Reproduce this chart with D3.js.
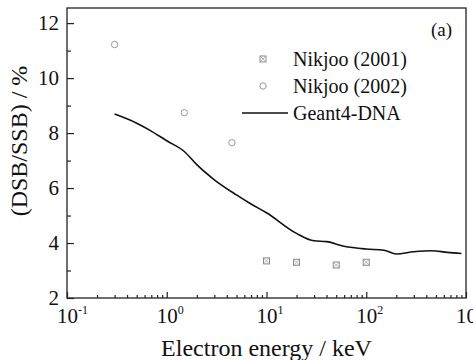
<!DOCTYPE html>
<html>
<head>
<meta charset="utf-8">
<script src="https://cdn.jsdelivr.net/npm/d3@7"></script>
<style>
  body { margin: 0; background: #fff; }
</style>
</head>
<body>
<div id="chart"></div>
<script>
// Data
const nikjoo2001E = [10, 20, 50, 100];
const nikjoo2001R = [3.35, 3.3, 3.2, 3.3];

const nikjoo2002E = [0.3, 1.5, 4.5];
const nikjoo2002R = [11.22, 8.74, 7.65];

const geantE = [0.3, 0.5, 0.68, 1, 1.5, 2, 3, 5, 7, 10, 20, 30, 40, 60, 100, 150, 200, 300, 450, 650, 900];
const geantR = [8.69, 8.36, 8.1, 7.72, 7.33, 6.85, 6.3, 5.75, 5.42, 5.1, 4.35, 4.08, 4.05, 3.88, 3.78, 3.74, 3.6, 3.68, 3.72, 3.66, 3.62];

const xDecades = [-1, 0, 1, 2, 3];
const yTicks = [2, 4, 6, 8, 10, 12];
const yMinor = [3, 5, 7, 9, 11];

const W = 473, H = 360;
const margin = { left: 67, right: 7, top: 8, bottom: 62 };
const FONT = "'Liberation Serif', 'DejaVu Serif', serif";

const svg = d3.select("#chart").append("svg")
    .attr("width", W)
    .attr("height", H)
    .attr("font-family", FONT);

// Scales
const x = d3.scaleLog()
    .domain([0.1, 1000])
    .range([margin.left, W - margin.right]);

const y = d3.scaleLinear()
    .domain([2, 12.55])
    .range([H - margin.bottom, margin.top]);

// Frame
svg.append("rect")
    .attr("x", margin.left)
    .attr("y", margin.top)
    .attr("width", W - margin.left - margin.right)
    .attr("height", H - margin.top - margin.bottom)
    .attr("fill", "none")
    .attr("stroke", "#222")
    .attr("stroke-width", 1.3);

// x axis: major + minor ticks pointing inward
const xMajor = xDecades.map(d => Math.pow(10, d));
const xMinorVals = x.ticks().filter(v => !xMajor.some(m => Math.abs(m - v) < 1e-9));

svg.append("g")
    .attr("transform", `translate(0,${y(2)})`)
    .call(d3.axisBottom(x).tickValues(xMinorVals).tickSize(-3).tickFormat(""))
    .call(g => g.select(".domain").remove());

svg.append("g")
    .attr("transform", `translate(0,${y(2)})`)
    .call(d3.axisBottom(x).tickValues(xMajor).tickSize(-6).tickFormat(""))
    .call(g => g.select(".domain").remove());

// y axis ticks
svg.append("g")
    .attr("transform", `translate(${margin.left},0)`)
    .call(d3.axisLeft(y).tickValues(yMinor).tickSize(-4).tickFormat(""))
    .call(g => g.select(".domain").remove());

svg.append("g")
    .attr("transform", `translate(${margin.left},0)`)
    .call(d3.axisLeft(y).tickValues(yTicks).tickSize(-7).tickFormat(""))
    .call(g => g.select(".domain").remove());

svg.selectAll("g.tick line").attr("stroke", "#222").attr("stroke-width", 1.2);

// x tick labels with superscripts
const xLab = svg.append("g").attr("fill", "#111");
xDecades.forEach(d => {
    const t = xLab.append("text")
        .attr("x", x(Math.pow(10, d)) - 10)
        .attr("y", y(2) + 25)
        .attr("font-family", FONT)
        .attr("font-size", 21);
    t.append("tspan").text("10");
    t.append("tspan")
        .attr("font-size", 12)
        .attr("dy", -9)
        .text(d);
});

svg.append("g").attr("fill", "#111").selectAll("text")
    .data(yTicks)
    .join("text")
    .attr("x", margin.left - 8)
    .attr("y", d => y(d))
    .attr("dy", "0.35em")
    .attr("text-anchor", "end")
    .attr("font-family", FONT)
    .attr("font-size", 21)
    .text(d => d);

// Axis titles
svg.append("text")
    .attr("x", (margin.left + W - margin.right) / 2)
    .attr("y", H - 4)
    .attr("text-anchor", "middle")
    .attr("font-family", FONT)
    .attr("font-size", 24)
    .attr("fill", "#111")
    .text("Electron energy / keV");

svg.append("text")
    .attr("transform", "rotate(-90)")
    .attr("x", -141)
    .attr("y", 27)
    .attr("text-anchor", "middle")
    .attr("font-family", FONT)
    .attr("font-size", 24)
    .attr("fill", "#111")
    .text("(DSB/SSB) / %");

// Geant4-DNA line
const line = d3.line()
    .x(i => x(geantE[i]))
    .y(i => y(geantR[i]))
    .curve(d3.curveMonotoneX);

svg.append("path")
    .datum(d3.range(geantE.length))
    .attr("d", line)
    .attr("fill", "none")
    .attr("stroke", "#111")
    .attr("stroke-width", 1.6);

// crossed square marker
function crossSquare(g, cx, cy, s) {
    g.append("rect")
        .attr("x", cx - s).attr("y", cy - s)
        .attr("width", 2 * s).attr("height", 2 * s)
        .attr("fill", "none").attr("stroke", "#888").attr("stroke-width", 1);
    g.append("path")
        .attr("d", `M${cx - s},${cy - s}L${cx + s},${cy + s}M${cx + s},${cy - s}L${cx - s},${cy + s}`)
        .attr("stroke", "#999").attr("stroke-width", 0.7);
}

const sq = svg.append("g");
nikjoo2001E.forEach((e, i) => crossSquare(sq, x(e), y(nikjoo2001R[i]), 3));

svg.append("g").selectAll("circle")
    .data(d3.range(nikjoo2002E.length))
    .join("circle")
    .attr("cx", i => x(nikjoo2002E[i]))
    .attr("cy", i => y(nikjoo2002R[i]))
    .attr("r", 3.2)
    .attr("fill", "none")
    .attr("stroke", "#999")
    .attr("stroke-width", 1);

// Legend
const legend = svg.append("g");
crossSquare(legend, 263, 59, 3);
legend.append("circle")
    .attr("cx", 263).attr("cy", 86).attr("r", 3.2)
    .attr("fill", "none").attr("stroke", "#999").attr("stroke-width", 1);
legend.append("line")
    .attr("x1", 242).attr("x2", 288)
    .attr("y1", 113).attr("y2", 113)
    .attr("stroke", "#111").attr("stroke-width", 1.6);

const legendLabels = ["Nikjoo (2001)", "Nikjoo (2002)", "Geant4-DNA"];
legend.selectAll("text")
    .data(legendLabels)
    .join("text")
    .attr("x", 293)
    .attr("y", (d, i) => 59 + i * 27)
    .attr("dy", "0.35em")
    .attr("font-family", FONT)
    .attr("font-size", 20)
    .attr("fill", "#111")
    .text(d => d);

// Panel label
svg.append("text")
    .attr("x", 452)
    .attr("y", 36)
    .attr("text-anchor", "end")
    .attr("font-family", FONT)
    .attr("font-size", 19)
    .attr("fill", "#111")
    .text("(a)");
</script>
</body>
</html>
